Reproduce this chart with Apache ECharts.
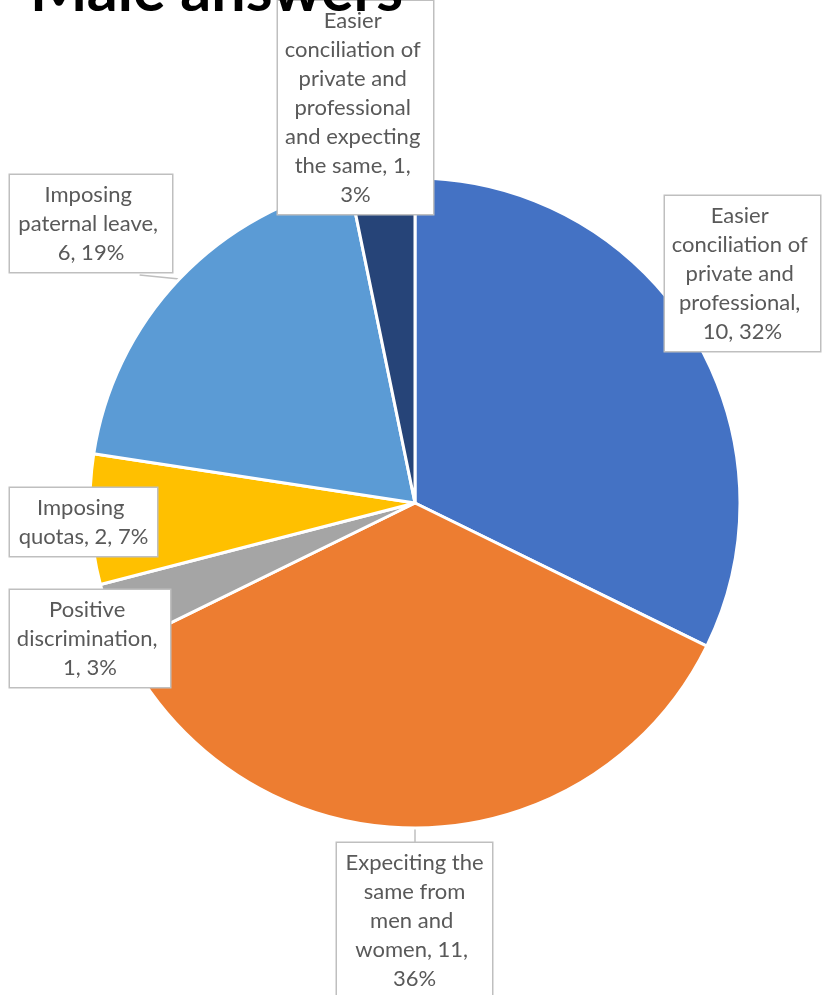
<!DOCTYPE html>
<html>
<head>
<meta charset="utf-8">
<script src="https://cdn.jsdelivr.net/npm/echarts@6/dist/echarts.min.js"></script>
<style>
html, body { margin: 0; padding: 0; background: #fff; }
#main { width: 827px; height: 995px; }
</style>
</head>
<body>
<div id="main"></div>
<script>
// data
var answers = [
    'Easier conciliation of private and professional',
    'Expeciting the same from men and women',
    'Positive discrimination',
    'Imposing quotas',
    'Imposing paternal leave',
    'Easier conciliation of private and professional and expecting the same'
];
var counts = [10, 11, 1, 2, 6, 1];
var colors = ['#4472C4', '#ED7D31', '#A5A5A5', '#FFC000', '#5B9BD5', '#264478'];

// callout boxes: left, top, width
var boxes = [[665, 196, 155], [337, 843, 155], [10, 590, 160], [10, 488, 147], [10, 175, 162], [278, 1, 155]];
var withLine = [false, true, false, false, true, false];

function initChart() {
    var myChart = echarts.init(document.getElementById('main'));

    var pieData = answers.map(function (name, i) {
        return {
            name: name,
            value: counts[i],
            itemStyle: { color: colors[i] },
            label: { width: boxes[i][2] - 12 },
            labelLine: { show: withLine[i] }
        };
    });

    var option = {
        backgroundColor: '#fff',
        animation: false,
        title: {
            text: 'Male answers',
            left: 25,
            top: -44,
            textStyle: { fontFamily: 'Lato', fontWeight: 'bold', fontSize: 61, color: '#000' }
        },
        series: [{
            type: 'pie',
            center: [415, 503],
            radius: 325,
            startAngle: 90,
            percentPrecision: 0,
            avoidLabelOverlap: false,
            itemStyle: { borderColor: '#fff', borderWidth: 3 },
            emphasis: { disabled: true },
            label: {
                show: true,
                position: 'outside',
                formatter: function (p) {
                    return p.name + ', ' + p.value + ', ' + p.percent + '%';
                },
                overflow: 'break',
                align: 'center',
                fontFamily: 'Lato',
                fontSize: 22,
                lineHeight: 29,
                color: '#595959',
                backgroundColor: '#fff',
                borderColor: '#BFBFBF',
                borderWidth: 1.5,
                padding: [5, 6]
            },
            labelLine: {
                length: 10,
                length2: 10,
                lineStyle: { color: '#BFBFBF', width: 1.5 }
            },
            labelLayout: function (params) {
                var b = boxes[params.dataIndex];
                var h = params.labelRect.height;
                var res = { x: b[0] + b[2] / 2, y: b[1], align: 'center', verticalAlign: 'top' };
                var pts = params.labelLinePoints;
                if (pts && withLine[params.dataIndex]) {
                    var s = pts[0];
                    // leader from slice edge to the near side of the callout box
                    var ex = Math.min(Math.max(s[0], b[0] + b[2] * 0.2), b[0] + b[2] * 0.8);
                    var ey = s[1] < b[1] ? b[1] : b[1] + h;
                    res.labelLinePoints = [[s[0], s[1]], [ex, ey], [ex, ey]];
                }
                return res;
            },
            data: pieData
        }]
    };

    myChart.setOption(option);
}

initChart();
</script>
</body>
</html>
